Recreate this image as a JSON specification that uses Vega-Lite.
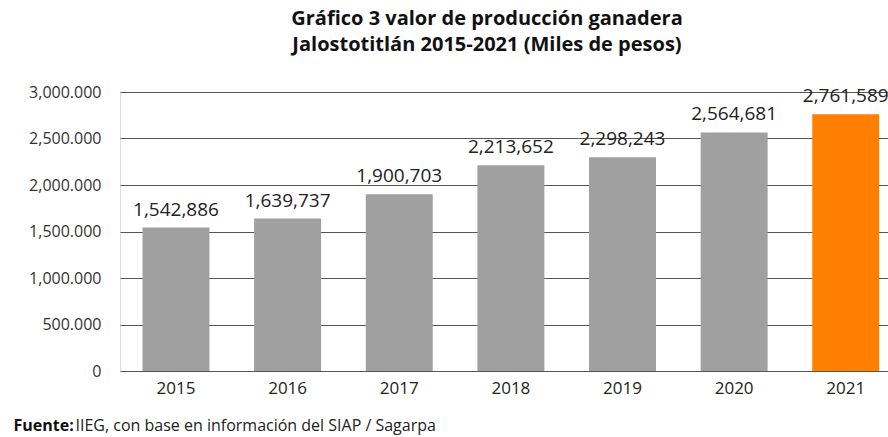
{
  "$schema": "https://vega.github.io/schema/vega-lite/v6.json",
  "autosize": {"type": "none"},
  "width": 768,
  "height": 279,
  "padding": {"left": 120, "top": 92, "right": 0, "bottom": 66},
  "background": "white",
  "title": {
    "text": ["Gráfico 3 valor de producción ganadera", "Jalostotitlán 2015-2021 (Miles de pesos)"],
    "font": "Open Sans",
    "fontSize": 20,
    "fontWeight": "bold",
    "color": "#111111",
    "anchor": "middle",
    "dx": -17,
    "offset": 29,
    "lineHeight": 26
  },
  "data": {
    "values": [
      {"year": "2015", "valor": 1542886, "hl": "no"},
      {"year": "2016", "valor": 1639737, "hl": "no"},
      {"year": "2017", "valor": 1900703, "hl": "no"},
      {"year": "2018", "valor": 2213652, "hl": "no"},
      {"year": "2019", "valor": 2298243, "hl": "no"},
      {"year": "2020", "valor": 2564681, "hl": "no"},
      {"year": "2021", "valor": 2761589, "hl": "yes"}
    ]
  },
  "encoding": {
    "x": {
      "field": "year",
      "type": "nominal",
      "sort": null,
      "scale": {"paddingInner": 0.4, "paddingOuter": 0.14, "align": 0.72},
      "axis": {
        "title": "IIEG, con base en información del SIAP / Sagarpa",
        "titleFont": "Open Sans",
        "titleFontSize": 16,
        "titleFontWeight": "normal",
        "titleColor": "#222222",
        "titleAlign": "left",
        "titleBaseline": "alphabetic",
        "titleX": -45,
        "titleY": 59,
        "labelAngle": 0,
        "labelFont": "Open Sans",
        "labelFontSize": 17,
        "labelColor": "#222222",
        "labelPadding": 9,
        "ticks": false,
        "tickSize": 0,
        "domain": false,
        "grid": false
      }
    },
    "y": {
      "field": "valor",
      "type": "quantitative",
      "scale": {"domain": [0, 3000000], "nice": false},
      "axis": {
        "values": [0, 500000, 1000000, 1500000, 2000000, 2500000, 3000000],
        "labelExpr": "format(datum.value / 1000, ',') + (datum.value > 0 ? '.000' : '')",
        "labelFont": "Open Sans",
        "labelFontSize": 16,
        "labelColor": "#333333",
        "labelPadding": 19,
        "ticks": false,
        "tickSize": 0,
        "domain": false,
        "grid": true,
        "gridColor": "#555555",
        "gridWidth": 1.2,
        "title": "Fuente:",
        "titleFont": "Open Sans",
        "titleFontSize": 16,
        "titleFontWeight": "bold",
        "titleColor": "#111111",
        "titleAngle": 0,
        "titleAlign": "left",
        "titleBaseline": "alphabetic",
        "titleX": -107,
        "titleY": 338
      }
    }
  },
  "layer": [
    {
      "mark": {"type": "bar"},
      "encoding": {
        "color": {
          "field": "hl",
          "type": "nominal",
          "scale": {"domain": ["no", "yes"], "range": ["#a0a0a0", "#ff8000"]},
          "legend": null
        }
      }
    },
    {
      "mark": {"type": "text", "baseline": "alphabetic", "dy": -12, "font": "Open Sans", "fontSize": 19, "color": "#222222"},
      "encoding": {
        "text": {"field": "valor", "type": "quantitative", "format": ","}
      }
    }
  ]
}
